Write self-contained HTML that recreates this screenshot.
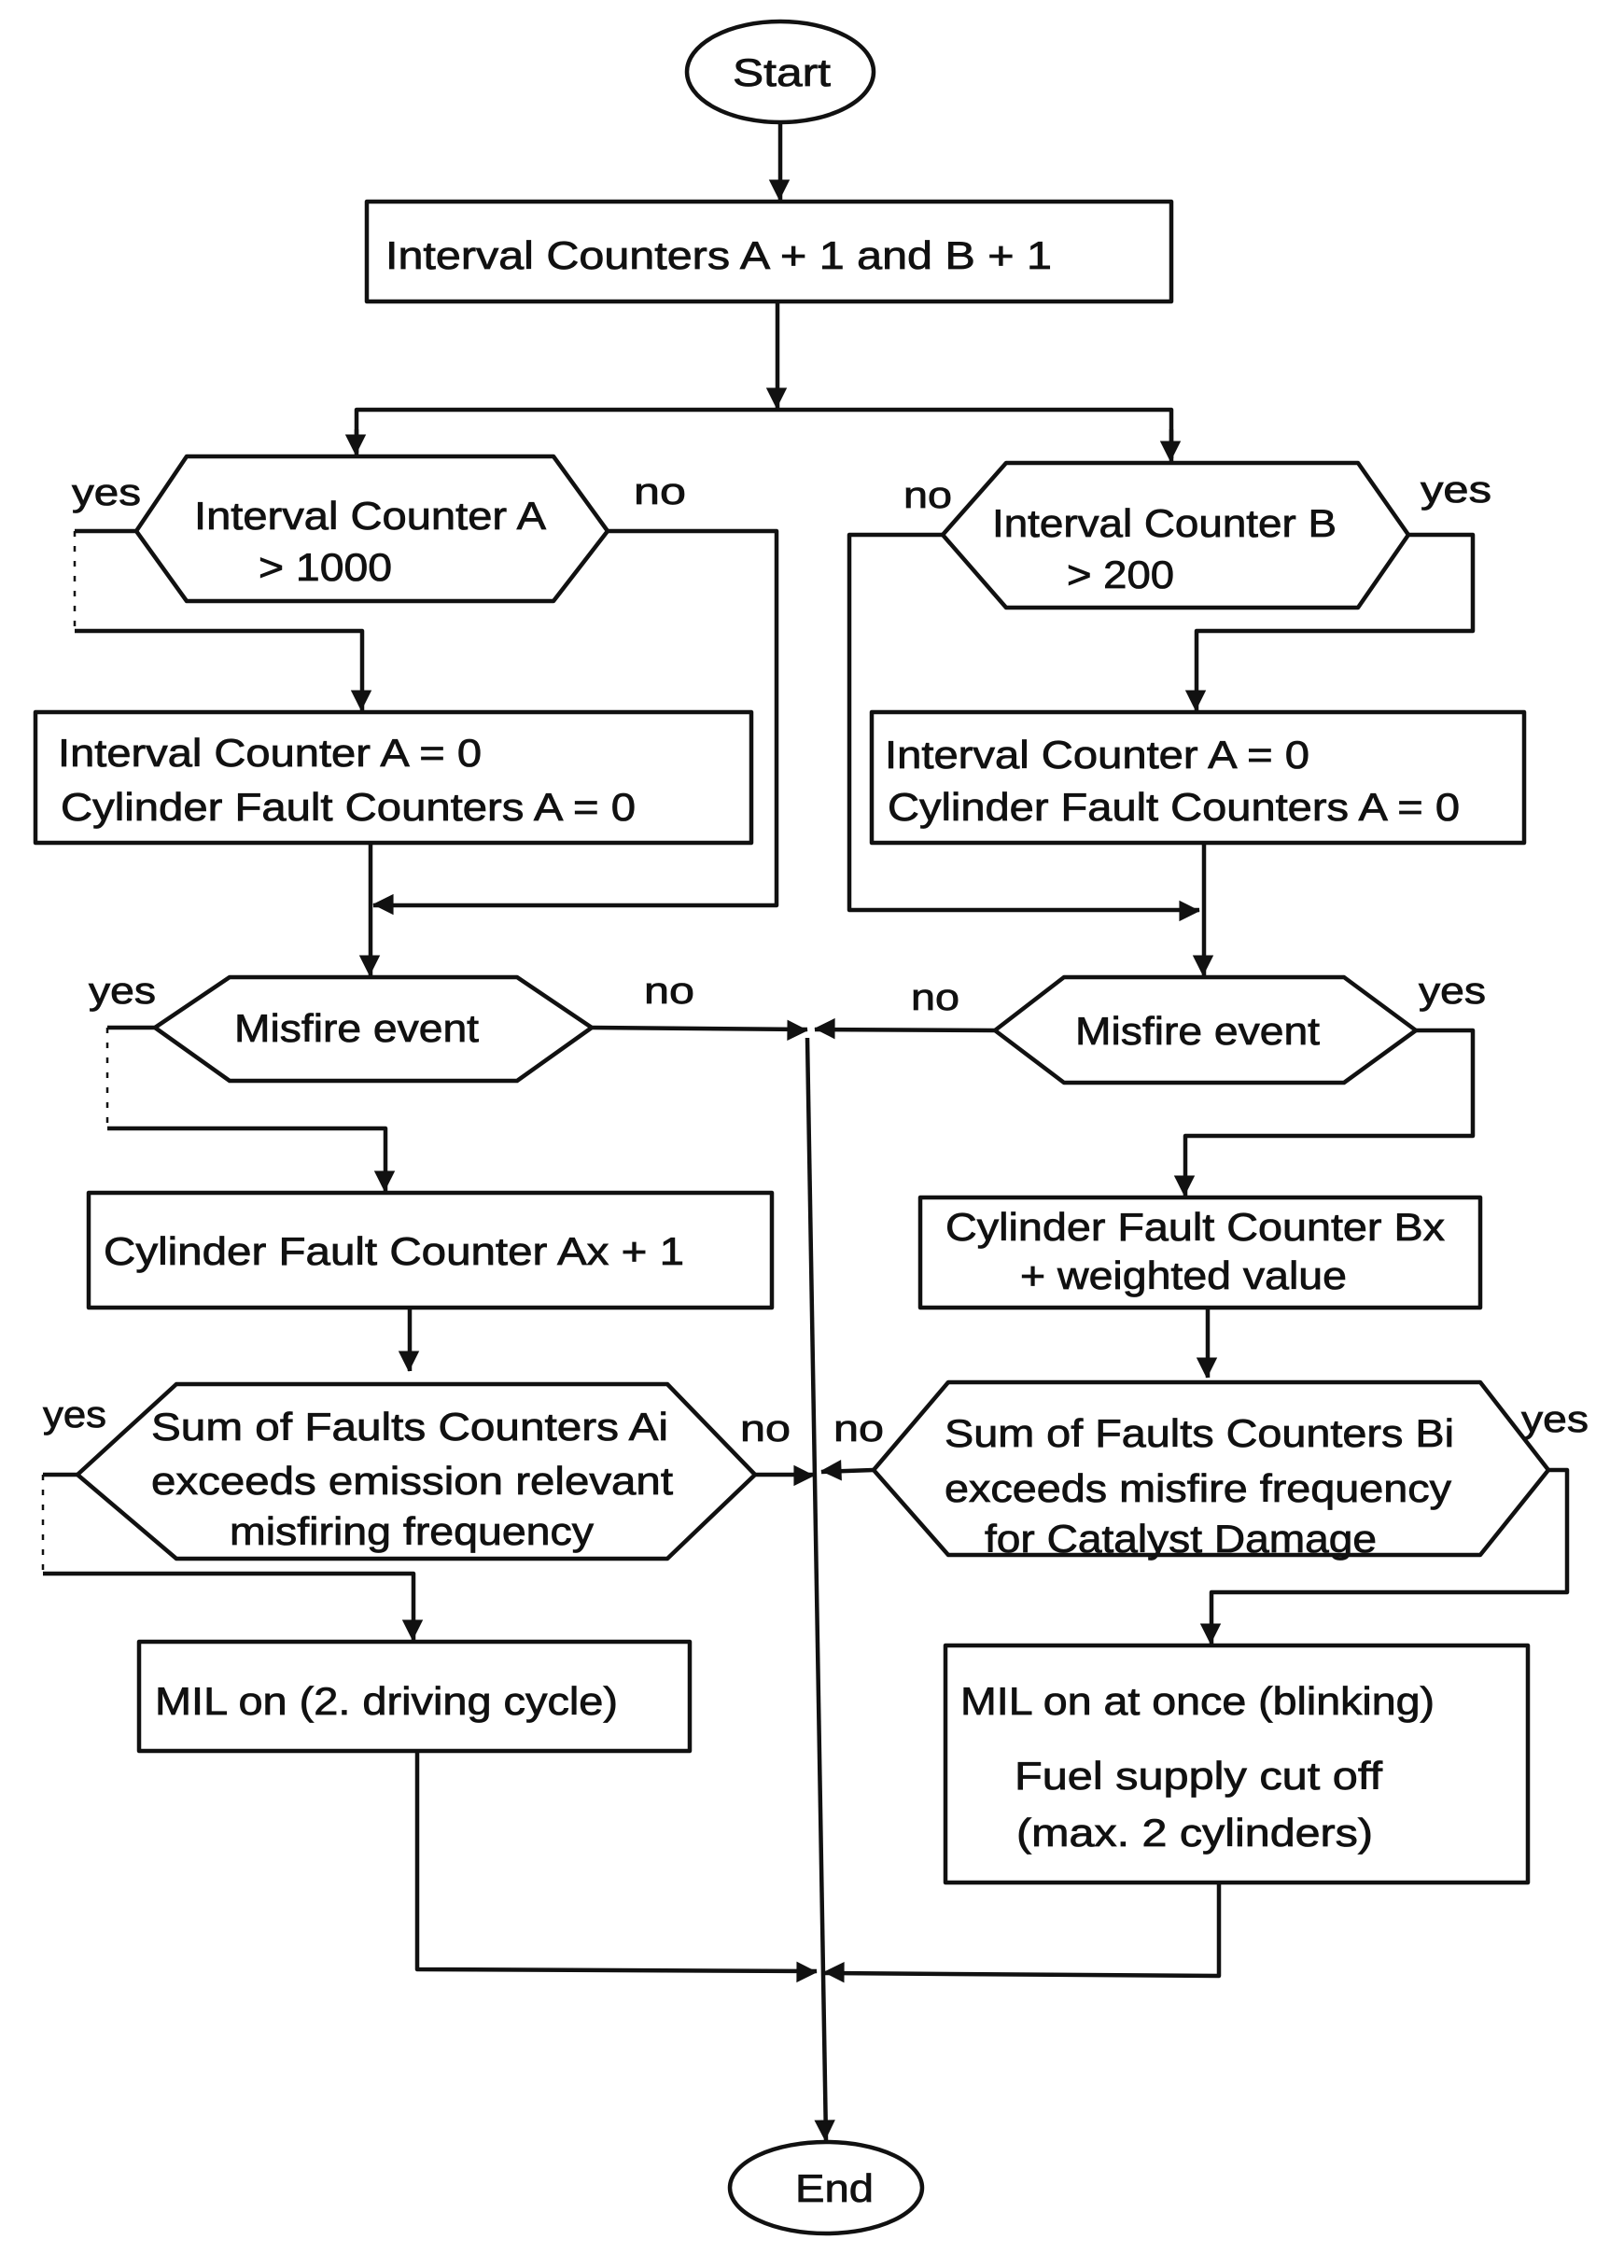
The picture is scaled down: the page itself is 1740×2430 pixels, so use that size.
<!DOCTYPE html>
<html><head><meta charset="utf-8"><style>
html,body{margin:0;padding:0;background:#fff;}
svg{display:block;}
text{font-family:"Liberation Sans",Arial,sans-serif;font-size:42px;fill:#111;stroke:#111;stroke-width:0.8px;}
.l{font-size:40px;}
</style></head><body>
<svg width="1740" height="2430" viewBox="0 0 1740 2430" xmlns="http://www.w3.org/2000/svg">
<defs>
<marker id="a" viewBox="0 0 10 10" refX="10" refY="5" markerWidth="7" markerHeight="7" markerUnits="userSpaceOnUse" orient="auto" style="overflow:visible">
<path d="M0,0 L10,5 L0,10 z" fill="#111" transform="scale(3.2) translate(-6.5,-3)"/>
</marker>
</defs>
<g fill="none" stroke="#111" stroke-width="4.5" stroke-linejoin="round">
<ellipse cx="836" cy="77" rx="100" ry="54"/>
<line x1="836" y1="131" x2="836" y2="214" marker-end="url(#a)"/>
<rect x="393" y="216" width="862" height="107"/>
<line x1="833" y1="323" x2="833" y2="437" marker-end="url(#a)"/>
<polyline points="382,485 382,439 1255,439 1255,491"/>
<line x1="382" y1="460" x2="382" y2="487" marker-end="url(#a)"/>
<line x1="1255" y1="460" x2="1255" y2="494" marker-end="url(#a)"/>
<polygon points="146,569 200,489 593,489 651,569 593,644 200,644"/>
<polygon points="1010,573 1078,496 1455,496 1509,573 1455,651 1078,651"/>
<polyline points="146,569 80,569"/>
<polyline points="80,569 80,676" stroke-width="2.5" stroke-dasharray="6,10"/>
<polyline points="80,676 388,676 388,705"/>
<line x1="388" y1="705" x2="388" y2="761" marker-end="url(#a)"/>
<polyline points="651,569 832,569 832,970 400,970" marker-end="url(#a)"/>
<rect x="38" y="763" width="767" height="140"/>
<polyline points="397,903 397,1045" marker-end="url(#a)"/>
<polyline points="1010,573 910,573 910,975 1285,975" marker-end="url(#a)"/>
<polyline points="1509,573 1578,573 1578,676 1282,676 1282,761" marker-end="url(#a)"/>
<rect x="934" y="763" width="699" height="140"/>
<polyline points="1290,903 1290,1045" marker-end="url(#a)"/>
<polygon points="166,1101 246,1047 554,1047 634,1101 554,1158 246,1158"/>
<polygon points="1066,1104 1140,1047 1440,1047 1517,1104 1440,1160 1140,1160"/>
<line x1="634" y1="1101" x2="865" y2="1103" marker-end="url(#a)"/>
<line x1="1066" y1="1104" x2="873" y2="1103" marker-end="url(#a)"/>
<line x1="865" y1="1112" x2="885" y2="2293" marker-end="url(#a)"/>
<ellipse cx="885" cy="2344" rx="103" ry="49"/>
<polyline points="166,1101 115,1101"/>
<polyline points="115,1101 115,1209" stroke-width="2.5" stroke-dasharray="6,10"/>
<polyline points="115,1209 413,1209 413,1276" marker-end="url(#a)"/>
<rect x="95" y="1278" width="732" height="123"/>
<polyline points="439,1401 439,1469" marker-end="url(#a)"/>
<polyline points="1517,1104 1578,1104 1578,1217 1270,1217 1270,1281" marker-end="url(#a)"/>
<rect x="986" y="1283" width="600" height="118"/>
<polyline points="1294,1401 1294,1476" marker-end="url(#a)"/>
<polygon points="83,1580 189,1483 715,1483 809,1580 715,1670 189,1670"/>
<polygon points="936,1575 1016,1481 1586,1481 1659,1575 1586,1666 1016,1666"/>
<line x1="809" y1="1580" x2="872" y2="1580" marker-end="url(#a)"/>
<line x1="936" y1="1575" x2="880" y2="1577" marker-end="url(#a)"/>
<polyline points="83,1580 46,1580"/>
<polyline points="46,1580 46,1686" stroke-width="2.5" stroke-dasharray="6,10"/>
<polyline points="46,1686 443,1686 443,1757" marker-end="url(#a)"/>
<rect x="149" y="1759" width="590" height="117"/>
<polyline points="1659,1575 1679,1575 1679,1706 1298,1706 1298,1761" marker-end="url(#a)"/>
<rect x="1013" y="1763" width="624" height="254"/>
<polyline points="447,1876 447,2110 875,2112" marker-end="url(#a)"/>
<polyline points="1306,2017 1306,2117 883,2114" marker-end="url(#a)"/>
</g>
<g>
<text x="785" y="92" textLength="105" lengthAdjust="spacingAndGlyphs">Start</text>
<text x="413" y="288" textLength="714" lengthAdjust="spacingAndGlyphs">Interval Counters A + 1 and B + 1</text>
<text x="208" y="567" textLength="377" lengthAdjust="spacingAndGlyphs">Interval Counter A</text>
<text x="277" y="622" textLength="143" lengthAdjust="spacingAndGlyphs">&gt; 1000</text>
<text x="1063" y="575" textLength="369" lengthAdjust="spacingAndGlyphs">Interval Counter B</text>
<text x="1143" y="630" textLength="115" lengthAdjust="spacingAndGlyphs">&gt; 200</text>
<text class="l" x="77" y="541" textLength="74" lengthAdjust="spacingAndGlyphs">yes</text>
<text class="l" x="679" y="540" textLength="56" lengthAdjust="spacingAndGlyphs">no</text>
<text class="l" x="968" y="544" textLength="52" lengthAdjust="spacingAndGlyphs">no</text>
<text class="l" x="1522" y="538" textLength="76" lengthAdjust="spacingAndGlyphs">yes</text>
<text x="62" y="821" textLength="454" lengthAdjust="spacingAndGlyphs">Interval Counter A = 0</text>
<text x="65" y="879" textLength="616" lengthAdjust="spacingAndGlyphs">Cylinder Fault Counters A = 0</text>
<text x="948" y="823" textLength="455" lengthAdjust="spacingAndGlyphs">Interval Counter A = 0</text>
<text x="951" y="879" textLength="613" lengthAdjust="spacingAndGlyphs">Cylinder Fault Counters A = 0</text>
<text x="251" y="1116" textLength="262" lengthAdjust="spacingAndGlyphs">Misfire event</text>
<text x="1152" y="1119" textLength="262" lengthAdjust="spacingAndGlyphs">Misfire event</text>
<text class="l" x="95" y="1075" textLength="72" lengthAdjust="spacingAndGlyphs">yes</text>
<text class="l" x="690" y="1075" textLength="54" lengthAdjust="spacingAndGlyphs">no</text>
<text class="l" x="976" y="1082" textLength="52" lengthAdjust="spacingAndGlyphs">no</text>
<text class="l" x="1520" y="1075" textLength="72" lengthAdjust="spacingAndGlyphs">yes</text>
<text x="111" y="1355" textLength="622" lengthAdjust="spacingAndGlyphs">Cylinder Fault Counter Ax + 1</text>
<text x="1013" y="1329" textLength="535" lengthAdjust="spacingAndGlyphs">Cylinder Fault Counter Bx</text>
<text x="1093" y="1381" textLength="350" lengthAdjust="spacingAndGlyphs">+ weighted value</text>
<text x="162" y="1543" textLength="554" lengthAdjust="spacingAndGlyphs">Sum of Faults Counters Ai</text>
<text x="162" y="1601" textLength="559" lengthAdjust="spacingAndGlyphs">exceeds emission relevant</text>
<text x="246" y="1655" textLength="390" lengthAdjust="spacingAndGlyphs">misfiring frequency</text>
<text x="1012" y="1550" textLength="546" lengthAdjust="spacingAndGlyphs">Sum of Faults Counters Bi</text>
<text x="1012" y="1609" textLength="543" lengthAdjust="spacingAndGlyphs">exceeds misfire frequency</text>
<text x="1055" y="1663" textLength="420" lengthAdjust="spacingAndGlyphs">for Catalyst Damage</text>
<text class="l" x="46" y="1529" textLength="68" lengthAdjust="spacingAndGlyphs">yes</text>
<text class="l" x="793" y="1544" textLength="54" lengthAdjust="spacingAndGlyphs">no</text>
<text class="l" x="893" y="1544" textLength="54" lengthAdjust="spacingAndGlyphs">no</text>
<text class="l" x="1630" y="1534" textLength="72" lengthAdjust="spacingAndGlyphs">yes</text>
<text x="166" y="1837" textLength="496" lengthAdjust="spacingAndGlyphs">MIL on (2. driving cycle)</text>
<text x="1029" y="1837" textLength="508" lengthAdjust="spacingAndGlyphs">MIL on at once (blinking)</text>
<text x="1087" y="1917" textLength="394" lengthAdjust="spacingAndGlyphs">Fuel supply cut off</text>
<text x="1089" y="1978" textLength="382" lengthAdjust="spacingAndGlyphs">(max. 2 cylinders)</text>
<text x="852" y="2359" textLength="84" lengthAdjust="spacingAndGlyphs">End</text>
</g>
</svg>
</body></html>
